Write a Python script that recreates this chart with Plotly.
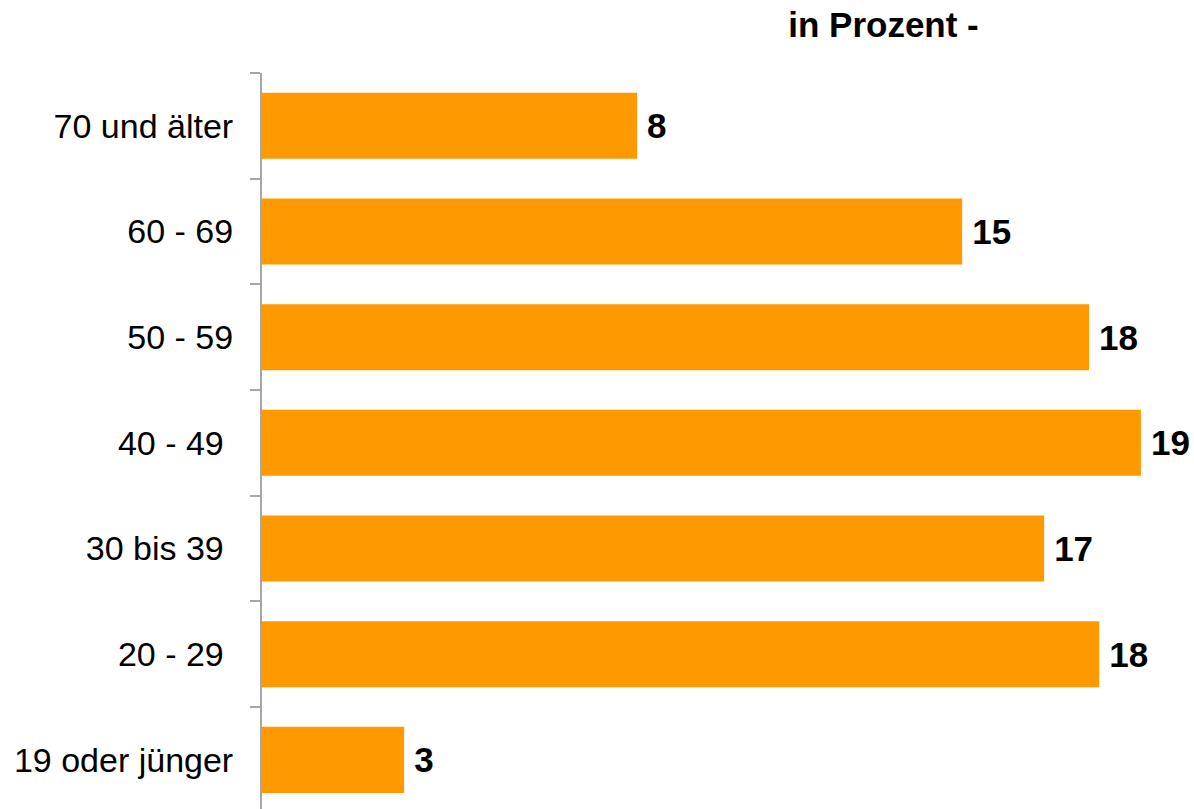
import plotly.graph_objects as go

# bottom to top
categories = ["19 oder jünger", "20 - 29\u00a0", "30 bis 39\u00a0", "40 - 49\u00a0", "50 - 59", "60 - 69", "70 und älter"]
values = [3.07, 18.08, 16.89, 18.98, 17.86, 15.12, 8.1]
labels = ["3", "18", "17", "19", "18", "15", "8"]

FONT = "Liberation Sans, Arial, sans-serif"

fig = go.Figure(go.Bar(
    x=values,
    y=categories,
    orientation="h",
    marker=dict(color="#FF9900", line=dict(width=0)),
    text=["\u2009" + t for t in labels],
    textposition="outside",
    textfont=dict(family=FONT, size=35, color="#000000", weight="bold"),
    cliponaxis=False,
    hoverinfo="skip",
))

fig.update_layout(
    width=1194,
    height=809,
    margin=dict(l=262, r=4, t=73, b=0),
    paper_bgcolor="white",
    plot_bgcolor="white",
    bargap=0.375,
    showlegend=False,
    font=dict(family=FONT, size=34, color="#000000"),
    title=dict(
        text="<b>in Prozent -</b>",
        x=883.5 / 1194,
        xanchor="center",
        xref="container",
        y=1 - 25 / 809,
        yanchor="middle",
        yref="container",
        font=dict(family=FONT, size=35, color="#000000"),
    ),
    xaxis=dict(
        range=[0, 20.04],
        visible=False,
        showgrid=False,
        zeroline=False,
    ),
    yaxis=dict(
        categoryorder="array",
        categoryarray=categories,
        range=[-0.465, 6.5],
        showline=True,
        linecolor="#A6A6A6",
        linewidth=2,
        ticks="outside",
        tickson="boundaries",
        ticklen=10,
        tickwidth=2,
        tickcolor="#A6A6A6",
        ticklabelstandoff=20,
        showgrid=False,
        zeroline=False,
        automargin=False,
        tickfont=dict(family=FONT, size=34, color="#000000"),
    ),
)

fig.write_html(
    "out.html",
    config={"displayModeBar": False},
    post_script="document.body.style.margin='0px';",
)
